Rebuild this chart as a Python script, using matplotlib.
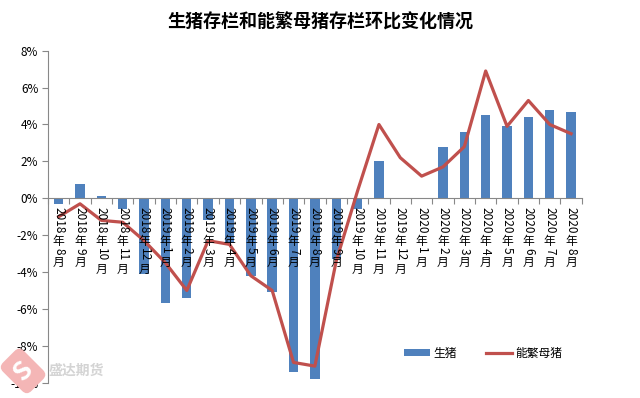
import matplotlib
matplotlib.use("Agg")
import matplotlib.pyplot as plt
import matplotlib.transforms as mtransforms
import re

plt.rcParams['font.family'] = ['Noto Sans CJK SC', 'DejaVu Sans']

months = ['2018年8月', '2018年9月', '2018年10月', '2018年11月', '2018年12月',
          '2019年1月', '2019年2月', '2019年3月', '2019年4月', '2019年5月',
          '2019年6月', '2019年7月', '2019年8月', '2019年9月', '2019年10月',
          '2019年11月', '2019年12月', '2020年1月', '2020年2月', '2020年3月',
          '2020年4月', '2020年5月', '2020年6月', '2020年7月', '2020年8月']
hogs = [-0.3, 0.8, 0.1, -0.6, -4.1, -5.7, -5.4, -1.2, -2.4, -4.2, -5.1, -9.4,
        -9.8, -3.3, -0.6, 2.0, 0, 0, 2.8, 3.6, 4.5, 3.9, 4.4, 4.8, 4.7]
sows = [-1.0, -0.3, -1.2, -1.3, -2.3, -3.5, -5.0, -2.3, -2.5, -4.2, -5.0, -8.9,
        -9.1, -3.4, 0.4, 4.0, 2.2, 1.2, 1.7, 2.8, 6.9, 3.9, 5.3, 4.0, 3.5]

fig = plt.figure(figsize=(6.4, 3.98), dpi=100)
ax = fig.add_axes([0.075, 0.0384, 0.834, 0.8342])

x = list(range(len(months)))
bars = ax.bar(x, hogs, width=0.44, color='#4F81BD', label='生猪', zorder=2)
line, = ax.plot(x, sows, color='#C0504D', lw=2.3, label='能繁母猪', zorder=3)

ax.set_xlim(-0.5, len(months) - 0.5)
ax.set_ylim(-10, 8)
ax.set_yticks(range(-10, 9, 2))
ax.set_yticklabels(['%d%%' % v for v in range(-10, 9, 2)], fontsize=8.5)
ax.tick_params(axis='y', length=4, color='#888888', pad=3)

for s in ['top', 'right']:
    ax.spines[s].set_visible(False)
ax.spines['left'].set_color('#888888')
ax.spines['bottom'].set_color('#888888')
ax.spines['bottom'].set_position(('data', 0))
ax.set_xticks([i - 0.5 for i in range(len(months) + 1)])
ax.set_xticklabels([])
ax.tick_params(axis='x', length=4, color='#888888', direction='out')

# vertical category labels: digits rotated, CJK upright (pixel advances)
fs = 8.5
digit_px = 6.8
cjk_px = 12.3
gap = 0.8
for i, lab in enumerate(months):
    off = 8
    for part in re.findall(r'\d+|\D', lab):
        if part.isdigit():
            size = len(part) * digit_px
            rot = -90
        else:
            size = cjk_px
            rot = 0
        tr = mtransforms.offset_copy(ax.transData, fig, x=0, y=-(off + size / 2),
                                     units='dots')
        ax.text(i, 0, part, transform=tr, rotation=rot, ha='center',
                va='center_baseline' if rot == 0 else 'center',
                fontsize=fs, zorder=4)
        off += size + gap

fig.text(0.5, 0.945, '生猪存栏和能繁母猪存栏环比变化情况', ha='center', va='center',
         fontsize=13, fontweight='bold')

fig.legend([bars, line], ['生猪', '能繁母猪'], loc='center',
           bbox_to_anchor=(0.755, 0.113), ncol=2, frameon=False,
           fontsize=8.5, handlelength=2.2, handleheight=0.6, columnspacing=2.5,
           handletextpad=0.3)

# faint watermark
fig.text(0.119, 0.068, '盛达期货', ha='center', va='center', fontsize=10,
         fontweight='bold', color='#d4d4d4', zorder=0)
fig.text(0.036, 0.068, 'S', ha='center', va='center', fontsize=19, rotation=45,
         fontweight='bold', color='white', zorder=1,
         bbox=dict(boxstyle='round,pad=0.25', fc='#f4b6b6', ec='none'))

fig.savefig('out.png', dpi=100)
